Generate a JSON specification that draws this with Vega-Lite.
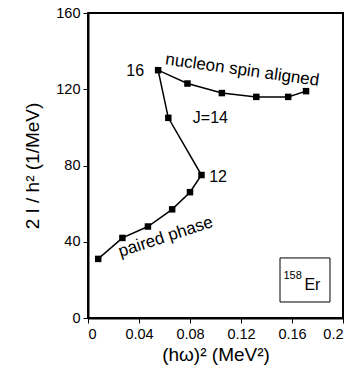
{
  "$schema": "https://vega.github.io/schema/vega-lite/v6.json",
  "width": 255,
  "height": 305,
  "autosize": "none",
  "padding": {"left": 88, "top": 13, "right": 13, "bottom": 56},
  "config": {
    "font": "Liberation Sans",
    "view": {"stroke": "black", "strokeWidth": 2},
    "axis": {"grid": false, "domainColor": "black", "domainWidth": 2, "tickColor": "black", "tickSize": 5, "tickWidth": 1, "labelColor": "black", "labelFontSize": 14.5, "titleColor": "black", "titleFontSize": 19, "titleFontWeight": "normal", "labelFont": "Liberation Sans", "titleFont": "Liberation Sans"}
  },
  "datasets": {
    "pts": [
      {"x": 0.008, "y": 31, "o": 1},
      {"x": 0.027, "y": 42, "o": 2},
      {"x": 0.047, "y": 48, "o": 3},
      {"x": 0.066, "y": 57, "o": 4},
      {"x": 0.080, "y": 66, "o": 5},
      {"x": 0.089, "y": 75, "o": 6},
      {"x": 0.063, "y": 105, "o": 7},
      {"x": 0.055, "y": 130, "o": 8},
      {"x": 0.078, "y": 123, "o": 9},
      {"x": 0.105, "y": 118, "o": 10},
      {"x": 0.132, "y": 116, "o": 11},
      {"x": 0.157, "y": 116, "o": 12},
      {"x": 0.171, "y": 119, "o": 13}
    ],
    "labels": [
      {"x": 0.037, "y": 129.5, "t": "16", "a": 0, "s": 16},
      {"x": 0.102, "y": 74, "t": "12", "a": 0, "s": 16},
      {"x": 0.096, "y": 105, "t": "J=14", "a": 0, "s": 16},
      {"x": 0.121, "y": 130, "t": "nucleon spin aligned", "a": 8, "s": 17},
      {"x": 0.061, "y": 42.5, "t": "paired phase", "a": -18, "s": 17}
    ],
    "box": [{"x1": 0.1506, "x2": 0.1898, "y1": 8.4, "y2": 31.5}],
    "iso": [
      {"x": 0.1605, "y": 22, "t": "158", "s": 11},
      {"x": 0.176, "y": 17.5, "t": "Er", "s": 16}
    ]
  },
  "layer": [
    {
      "data": {"name": "pts"},
      "mark": {"type": "line", "color": "black", "strokeWidth": 1.5},
      "encoding": {
        "x": {"field": "x", "type": "quantitative", "scale": {"domain": [0, 0.2], "nice": false}, "axis": {"values": [0, 0.04, 0.08, 0.12, 0.16, 0.2], "format": ".2~f", "title": "(hω)² (MeV²)", "titlePadding": 5, "labelPadding": 4}},
        "y": {"field": "y", "type": "quantitative", "scale": {"domain": [0, 160], "nice": false}, "axis": {"values": [0, 40, 80, 120, 160], "title": "2 I / h² (1/MeV)", "titlePadding": 13, "labelPadding": 3}},
        "order": {"field": "o"}
      }
    },
    {
      "data": {"name": "pts"},
      "mark": {"type": "square", "color": "black", "filled": true, "opacity": 1, "size": 42},
      "encoding": {
        "x": {"field": "x", "type": "quantitative"},
        "y": {"field": "y", "type": "quantitative"}
      }
    },
    {
      "data": {"name": "labels"},
      "mark": {"type": "text", "color": "black", "font": "Liberation Sans", "align": "center", "baseline": "middle"},
      "encoding": {
        "x": {"field": "x", "type": "quantitative"},
        "y": {"field": "y", "type": "quantitative"},
        "text": {"field": "t"},
        "angle": {"field": "a", "type": "quantitative", "scale": null},
        "size": {"field": "s", "type": "quantitative", "scale": null}
      }
    },
    {
      "data": {"name": "box"},
      "mark": {"type": "rect", "fill": null, "stroke": "black", "strokeWidth": 1},
      "encoding": {
        "x": {"field": "x1", "type": "quantitative"},
        "x2": {"field": "x2"},
        "y": {"field": "y1", "type": "quantitative"},
        "y2": {"field": "y2"}
      }
    },
    {
      "data": {"name": "iso"},
      "mark": {"type": "text", "color": "black", "font": "Liberation Sans", "align": "center", "baseline": "middle"},
      "encoding": {
        "x": {"field": "x", "type": "quantitative"},
        "y": {"field": "y", "type": "quantitative"},
        "text": {"field": "t"},
        "size": {"field": "s", "type": "quantitative", "scale": null}
      }
    }
  ]
}
